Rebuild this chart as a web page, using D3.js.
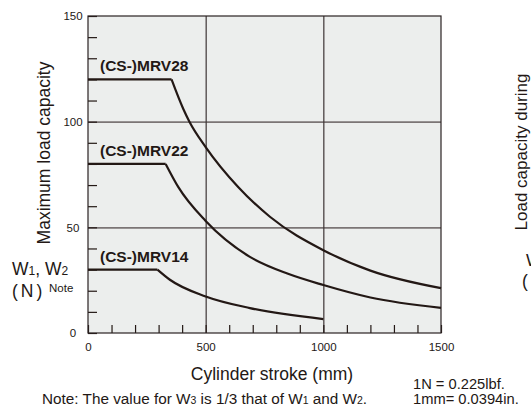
<!DOCTYPE html>
<html>
<head>
<meta charset="utf-8">
<script src="https://cdn.jsdelivr.net/npm/d3@7"></script>
<style>
    body { margin: 0; background: #fff; }
    svg { display: block; font-family: "Liberation Sans", Arial, sans-serif; }
</style>
</head>
<body>
<div id="chart"></div>
<script>
const ink = '#231815';

// stroke (mm) vs max load (N)
const mrv28 = [[0, 120], [355, 120], [405, 106], [431, 100], [500, 88], [639, 69], [773, 55],
    [1000, 39.2], [1200, 29.5], [1500, 21.2]];
const mrv22 = [[0, 80], [330, 80], [384, 69], [500, 53], [688, 36], [850, 28], [1000, 22.7],
    [1200, 16.8], [1500, 11.9]];
const mrv14 = [[0, 30], [295, 30], [348, 25.2], [500, 17.3], [688, 11.8], [1000, 6.6]];
const series = [
    { name: '(CS-)MRV28', data: mrv28 },
    { name: '(CS-)MRV22', data: mrv22 },
    { name: '(CS-)MRV14', data: mrv14 }
];
const xTicks = [0, 500, 1000, 1500];
const yTicks = [0, 50, 100, 150];
const xGrid = [500, 1000];
const yGrid = [50, 100];

const width = 531, height = 407;
const plot = { left: 88, right: 441, top: 16, bottom: 333 };

const svg = d3.select('#chart').append('svg')
    .attr('width', width)
    .attr('height', height);

const x = d3.scaleLinear().domain([0, 1500]).range([plot.left, plot.right]);
const y = d3.scaleLinear().domain([0, 150]).range([plot.bottom, plot.top]);

svg.append('rect')
    .attr('x', plot.left).attr('y', plot.top)
    .attr('width', plot.right - plot.left)
    .attr('height', plot.bottom - plot.top)
    .attr('fill', '#eceeed');

// grid
const gy = svg.append('g')
    .attr('transform', `translate(${plot.left},0)`)
    .call(d3.axisLeft(y).tickValues(yGrid).tickSize(-(plot.right - plot.left)).tickFormat(''));
gy.select('.domain').remove();
gy.selectAll('line').attr('stroke', '#7b7575').attr('stroke-width', 1.6);

const gx = svg.append('g')
    .attr('transform', `translate(0,${plot.bottom})`)
    .call(d3.axisBottom(x).tickValues(xGrid).tickSize(-(plot.bottom - plot.top)).tickFormat(''));
gx.select('.domain').remove();
gx.selectAll('line').attr('stroke', '#3d3535').attr('stroke-width', 1.2);

// minor ticks, inward
const ty = svg.append('g')
    .attr('transform', `translate(${plot.left},0)`)
    .call(d3.axisLeft(y).tickValues(d3.range(0, 151, 10)).tickSize(-9).tickFormat(''));
ty.select('.domain').remove();
ty.selectAll('line').attr('stroke', ink).attr('stroke-width', 1.2);

const tx = svg.append('g')
    .attr('transform', `translate(0,${plot.bottom})`)
    .call(d3.axisBottom(x).tickValues(d3.range(0, 1501, 100)).tickSize(-8).tickFormat(''));
tx.select('.domain').remove();
tx.selectAll('line').attr('stroke', ink).attr('stroke-width', 1.2);

// border
svg.append('rect')
    .attr('x', plot.left).attr('y', plot.top)
    .attr('width', plot.right - plot.left)
    .attr('height', plot.bottom - plot.top)
    .attr('fill', 'none')
    .attr('stroke', '#2a2222')
    .attr('stroke-width', 1.2);

// curves: flat part straight, falling part smooth
const flat = d3.line().x(d => x(d[0])).y(d => y(d[1]));
const fall = d3.line().x(d => x(d[0])).y(d => y(d[1])).curve(d3.curveMonotoneX);

series.forEach(s => {
    svg.append('path')
        .attr('d', flat(s.data.slice(0, 2)))
        .attr('fill', 'none').attr('stroke', ink).attr('stroke-width', 2.2);
    svg.append('path')
        .attr('d', fall(s.data.slice(1)))
        .attr('fill', 'none').attr('stroke', ink).attr('stroke-width', 2.2);
    svg.append('text')
        .attr('x', 100)
        .attr('y', y(s.data[0][1]) - 8)
        .attr('font-size', 15.5)
        .attr('font-weight', 'bold')
        .attr('fill', ink)
        .text(s.name);
});

// tick labels
const ly = svg.append('g')
    .attr('transform', `translate(${plot.left},0)`)
    .call(d3.axisLeft(y).tickValues(yTicks).tickSize(0).tickFormat(d3.format('d')));
ly.select('.domain').remove();
ly.selectAll('text')
    .attr('x', -15)
    .attr('text-anchor', 'middle')
    .attr('font-size', 11.5)
    .attr('font-family', '"Liberation Sans", Arial, sans-serif')
    .attr('fill', ink);

const lx = svg.append('g')
    .attr('transform', `translate(0,${plot.bottom})`)
    .call(d3.axisBottom(x).tickValues(xTicks).tickSize(0).tickFormat(d3.format('d')));
lx.select('.domain').remove();
lx.selectAll('text')
    .attr('y', 10)
    .attr('font-size', 11.5)
    .attr('font-family', '"Liberation Sans", Arial, sans-serif')
    .attr('fill', ink);

// axis titles
svg.append('text')
    .attr('transform', 'translate(50,153) rotate(-90)')
    .attr('text-anchor', 'middle')
    .attr('font-size', 17.5)
    .attr('fill', ink)
    .text('Maximum load capacity');

const wl = svg.append('text')
    .attr('x', 12)
    .attr('y', 275)
    .attr('font-size', 17.5)
    .attr('fill', ink);
wl.append('tspan').text('W');
wl.append('tspan').attr('font-size', 12).text('1');
wl.append('tspan').text(', W');
wl.append('tspan').attr('font-size', 12).text('2');

svg.append('text')
    .attr('x', 12)
    .attr('y', 297)
    .attr('font-size', 17.5)
    .attr('letter-spacing', 3)
    .attr('fill', ink)
    .text('(N)');
svg.append('text')
    .attr('x', 49)
    .attr('y', 292)
    .attr('font-size', 11.5)
    .attr('fill', ink)
    .text('Note');

svg.append('text')
    .attr('x', 272)
    .attr('y', 380)
    .attr('text-anchor', 'middle')
    .attr('font-size', 17.5)
    .attr('fill', ink)
    .text('Cylinder stroke (mm)');

const note = svg.append('text')
    .attr('x', 42)
    .attr('y', 404)
    .attr('font-size', 15.3)
    .attr('fill', ink);
note.append('tspan').text('Note: The value for W');
note.append('tspan').attr('font-size', 10.5).text('3');
note.append('tspan').text(' is 1/3 that of W');
note.append('tspan').attr('font-size', 10.5).text('1');
note.append('tspan').text(' and W');
note.append('tspan').attr('font-size', 10.5).text('2');
note.append('tspan').text('.');

svg.append('text')
    .attr('x', 413).attr('y', 389)
    .attr('font-size', 14.7).attr('fill', ink)
    .text('1N = 0.225lbf.');
svg.append('text')
    .attr('x', 413).attr('y', 404)
    .attr('font-size', 14.7).attr('fill', ink)
    .text('1mm= 0.0394in.');

// edge of the neighbouring chart
svg.append('text')
    .attr('transform', 'translate(527,152) rotate(-90)')
    .attr('text-anchor', 'middle')
    .attr('font-size', 17)
    .attr('fill', ink)
    .text('Load capacity during');
svg.append('text')
    .attr('x', 526).attr('y', 266)
    .attr('font-size', 17).attr('fill', ink)
    .text('W');
svg.append('text')
    .attr('x', 522).attr('y', 287)
    .attr('font-size', 17.5)
    .attr('letter-spacing', 3)
    .attr('fill', ink)
    .text('(N');
</script>
</body>
</html>
